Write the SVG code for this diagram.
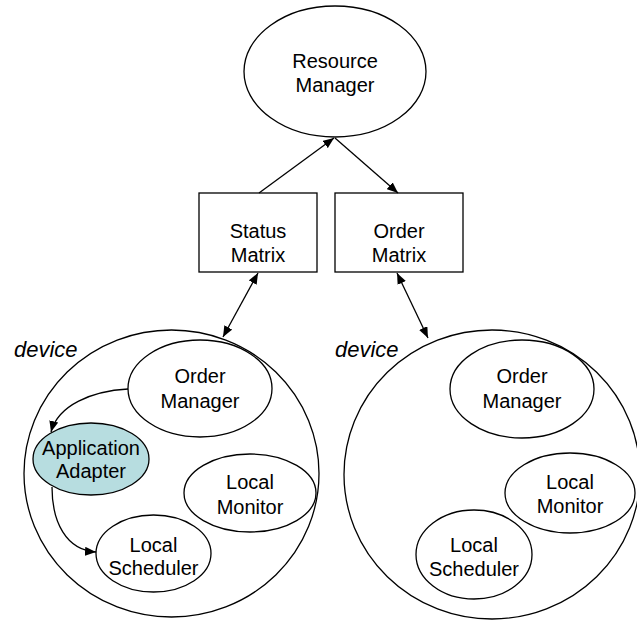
<svg xmlns="http://www.w3.org/2000/svg" width="637" height="623" viewBox="0 0 637 623">
  <style>
    .shape { fill: #ffffff; stroke: #000000; stroke-width: 1.3; }
    .adapter { fill: #b7dde0; stroke: #000000; stroke-width: 1.3; }
    .lbl { font-family: "Liberation Sans", Arial, sans-serif; font-size: 20px; fill: #000000; text-anchor: middle; }
    .dev { font-family: "Liberation Sans", Arial, sans-serif; font-size: 22px; font-style: italic; fill: #000000; }
    .conn { fill: none; stroke: #000000; stroke-width: 1.3; }
  </style>
  <defs>
    <marker id="arrow" markerUnits="userSpaceOnUse" markerWidth="11" markerHeight="9" refX="11" refY="4.5" orient="auto-start-reverse">
      <path d="M0,0 L11,4.5 L0,9 z" fill="#000000"/>
    </marker>
  </defs>

  <rect width="637" height="623" fill="#ffffff"/>

  <!-- device containers -->
  <g id="device-left">
    <ellipse class="shape" cx="171.5" cy="473.5" rx="147.5" ry="143.5"/>
    <text class="dev" x="14" y="357">device</text>
  </g>
  <g id="device-right">
    <ellipse class="shape" cx="492" cy="474.5" rx="148" ry="144.5"/>
    <text class="dev" x="335" y="357">device</text>
  </g>

  <g id="resource-manager">
    <ellipse class="shape" cx="335" cy="71.5" rx="91" ry="65.5"/>
    <text class="lbl" x="335" y="68">Resource</text>
    <text class="lbl" x="335" y="92">Manager</text>
  </g>

  <g id="status-matrix">
    <rect class="shape" x="199" y="193" width="118" height="79"/>
    <text class="lbl" x="258" y="238">Status</text>
    <text class="lbl" x="258" y="262">Matrix</text>
  </g>

  <g id="order-matrix">
    <rect class="shape" x="335" y="193" width="128" height="79"/>
    <text class="lbl" x="399" y="238">Order</text>
    <text class="lbl" x="399" y="262">Matrix</text>
  </g>

  <!-- left device components -->
  <g id="order-manager-left">
    <ellipse class="shape" cx="200" cy="388.5" rx="72" ry="48.5"/>
    <text class="lbl" x="200" y="383">Order</text>
    <text class="lbl" x="200" y="408">Manager</text>
  </g>
  <g id="application-adapter">
    <ellipse class="adapter" cx="91" cy="459" rx="58" ry="36"/>
    <text class="lbl" x="91" y="455">Application</text>
    <text class="lbl" x="91" y="478">Adapter</text>
  </g>
  <g id="local-monitor-left">
    <ellipse class="shape" cx="250" cy="493" rx="66" ry="39"/>
    <text class="lbl" x="250" y="489">Local</text>
    <text class="lbl" x="250" y="514">Monitor</text>
  </g>
  <g id="local-scheduler-left">
    <ellipse class="shape" cx="153.5" cy="553.5" rx="57.5" ry="38.5"/>
    <text class="lbl" x="153.5" y="552">Local</text>
    <text class="lbl" x="153.5" y="575">Scheduler</text>
  </g>

  <!-- right device components -->
  <g id="order-manager-right">
    <ellipse class="shape" cx="522" cy="389" rx="72" ry="49"/>
    <text class="lbl" x="522" y="383">Order</text>
    <text class="lbl" x="522" y="408">Manager</text>
  </g>
  <g id="local-monitor-right">
    <ellipse class="shape" cx="570" cy="493" rx="65" ry="40"/>
    <text class="lbl" x="570" y="489">Local</text>
    <text class="lbl" x="570" y="513">Monitor</text>
  </g>
  <g id="local-scheduler-right">
    <ellipse class="shape" cx="474" cy="554.5" rx="58" ry="44.5"/>
    <text class="lbl" x="474" y="552">Local</text>
    <text class="lbl" x="474" y="576">Scheduler</text>
  </g>

  <!-- connectors -->
  <g id="connectors">
    <line class="conn" x1="259" y1="193" x2="334" y2="138" marker-end="url(#arrow)"/>
    <line class="conn" x1="335" y1="138" x2="398" y2="193" marker-end="url(#arrow)"/>
    <line class="conn" x1="258" y1="273" x2="223" y2="337" marker-start="url(#arrow)" marker-end="url(#arrow)"/>
    <line class="conn" x1="397" y1="273" x2="428" y2="338" marker-start="url(#arrow)" marker-end="url(#arrow)"/>
    <path class="conn" d="M128,389 C92,391 58,405 51,432" marker-end="url(#arrow)"/>
    <path class="conn" d="M52,487 C52,522 66,550 96,552" marker-end="url(#arrow)"/>
  </g>
</svg>
